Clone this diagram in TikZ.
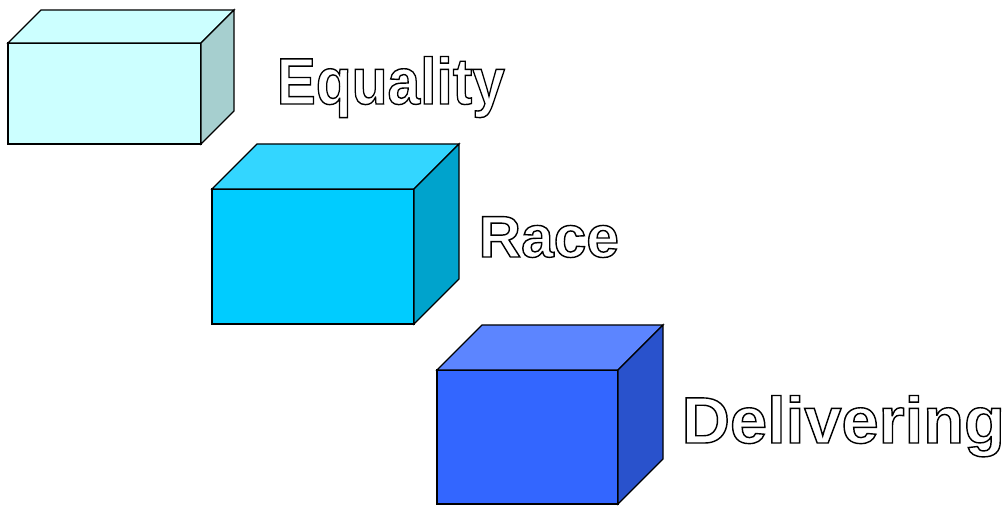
\documentclass[tikz,border=0pt]{standalone}
\usepackage{fontspec}
\setmainfont{Liberation Sans}
\usepackage{xcolor}

% couleurs des blocs
\definecolor{pale}{HTML}{CCFFFF}
\definecolor{paletop}{HTML}{CCFFFF}
\definecolor{paleside}{HTML}{A6CFCF}
\definecolor{sky}{HTML}{00CCFF}
\definecolor{skytop}{HTML}{33D6FF}
\definecolor{skyside}{HTML}{00A3CC}
\definecolor{royal}{HTML}{3366FF}
\definecolor{royaltop}{HTML}{5C85FF}
\definecolor{royalside}{HTML}{2952CC}

% texte en contour seulement
\newcommand{\hollow}[1]{\special{pdf:literal direct 1 Tr 0.8 w}#1\special{pdf:literal direct 0 Tr}}

\begin{document}
\begin{tikzpicture}[x=0.02cm, y=-0.02cm, thick,
    label/.style={anchor=base west, inner sep=0pt, font=\bfseries}]

    \useasboundingbox (0,0) rectangle (1008,506);

    % Blocs : x/y coin avant, largeur, hauteur, profondeur, couleur
    \foreach \x/\y/\w/\h/\d/\c in {8/43/193/101/33/pale, 212/189/202/135/45/sky, 437/370/181/134/45/royal}{
        \draw[fill=\c] (\x,\y) rectangle ++(\w,\h);
        \draw[fill=\c top] (\x,\y) -- ++(\d,-\d) -- ++(\w,0) -- ++(-\d,\d) -- cycle;
        \draw[fill=\c side] (\x+\w,\y) -- ++(\d,-\d) -- ++(0,\h) -- ++(-\d,\d) -- cycle;
    }

    % Légendes
    \node[label] (equality) at (276,104)
        {\fontsize{37.3}{38}\selectfont\scalebox{.895}[1]{\hollow{Equality}}};
    \node[label] (race) at (478,257)
        {\fontsize{33.4}{34}\selectfont\hollow{Race}};
    \node[label] (delivering) at (681,443)
        {\fontsize{37.3}{38}\selectfont\scalebox{1.02}[1]{\hollow{Delivering}}};

\end{tikzpicture}
\end{document}
